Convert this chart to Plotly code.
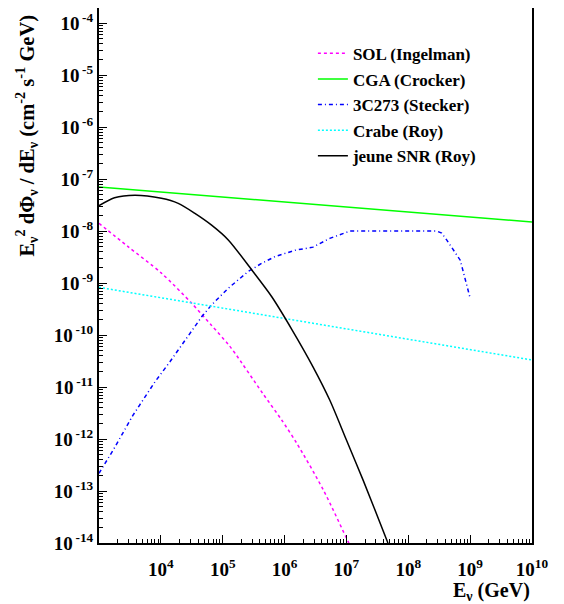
import plotly.graph_objects as go

# ---- data (E in GeV, flux in cm^-2 s^-1 GeV) ----
E_SOL = [1.0e3, 2.95e3, 1.02e4, 3.16e4, 6.61e4, 1.23e5, 1.58e5, 4.42e5, 8.97e5, 1.57e6, 4.23e6, 1.07e7, 1.26e7]
F_SOL = [1.41e-8, 5.01e-9, 1.55e-9, 4.07e-10, 1.53e-10, 6.61e-11, 4.47e-11, 7.59e-12, 2.32e-12, 8.32e-13, 1.05e-13, 1.05e-14, 7.08e-15]

E_CGA = [1.0e3, 1.0e10]
F_CGA = [7.02e-8, 1.49e-8]

E_3C273 = [1.0e3, 1.70e3, 3.55e3, 8.04e3, 1.41e4, 2.45e4, 4.57e4, 6.61e4, 1.23e5, 2.57e5, 4.27e5,
           7.08e5, 1.48e6, 2.88e6, 5.37e6, 1.15e7, 2.88e8, 3.47e8, 4.17e8, 6.92e8, 8.32e8, 1.0e9]
F_3C273 = [2.19e-13, 6.17e-13, 2.88e-12, 1.26e-11, 3.09e-11, 7.94e-11, 2.24e-10, 3.80e-10, 7.94e-10, 1.66e-9, 2.40e-9,
           3.24e-9, 4.27e-9, 4.90e-9, 7.24e-9, 1.0e-8, 1.0e-8, 9.12e-9, 6.76e-9, 2.75e-9, 1.15e-9, 5.13e-10]

E_CRABE = [1.0e3, 1.0e10]
F_CRABE = [8.26e-10, 3.31e-11]

E_SNR = [1.0e3, 1.78e3, 3.80e3, 1.02e4, 1.91e4, 3.55e4, 6.61e4, 1.23e5, 2.95e5, 6.17e5, 1.32e6,
         2.88e6, 5.37e6, 1.0e7, 1.86e7, 4.47e7, 5.01e7]
F_SNR = [3.07e-8, 4.37e-8, 4.90e-8, 4.27e-8, 3.41e-8, 2.19e-8, 1.30e-8, 6.76e-9, 1.78e-9, 5.50e-10, 1.26e-10,
         2.45e-11, 5.62e-12, 9.55e-13, 1.62e-13, 1.15e-14, 7.94e-15]

NAMES = ["SOL (Ingelman)", "CGA (Crocker)", "3C273 (Stecker)", "Crabe (Roy)", "jeune SNR (Roy)"]

X_EXPONENTS = [4, 5, 6, 7, 8, 9, 10]
Y_EXPONENTS = [-14, -13, -12, -11, -10, -9, -8, -7, -6, -5, -4]

FONT = "Liberation Serif"

X_TICKS = [10.0 ** k for k in X_EXPONENTS]
X_TICK_TEXT = ["10<sup>%d</sup>" % k for k in X_EXPONENTS]
Y_TICKS = [10.0 ** k for k in Y_EXPONENTS]
Y_TICK_TEXT = ["10<sup>\u2009%d</sup>" % k for k in Y_EXPONENTS]
X_MINOR = [m * 10.0 ** k for k in range(3, 10) for m in range(2, 10)]
Y_MINOR = [m * 10.0 ** k for k in range(-14, -3) for m in range(2, 10)]

series = [
    (NAMES[0], E_SOL, F_SOL, "#ff00ff", "3px,3px", 1.5, "spline"),
    (NAMES[1], E_CGA, F_CGA, "#00ff00", "solid", 1.5, "linear"),
    (NAMES[2], E_3C273, F_3C273, "#0000ff", "4px,3px,1px,3px", 1.5, "linear"),
    (NAMES[3], E_CRABE, F_CRABE, "#00ffff", "2px,2px", 1.5, "linear"),
    (NAMES[4], E_SNR, F_SNR, "#000000", "solid", 1.5, "spline"),
]

fig = go.Figure()
for name, E, F, color, dash, width, shape in series:
    fig.add_trace(go.Scatter(x=E, y=F, mode="lines", name=name, legendgroup=name,
                             line=dict(color=color, dash=dash, width=width, shape=shape, smoothing=0.8)))


def axis(tickvals, ticktext, minorvals, **extra):
    d = dict(
        type="log", showline=True, linecolor="black", linewidth=2, mirror=True,
        ticks="inside", ticklen=8, tickwidth=1, tickcolor="black",
        tickmode="array", tickvals=tickvals, ticktext=ticktext,
        showgrid=False, zeroline=False, automargin=False,
        tickfont=dict(family=FONT, size=19, color="black", weight="bold"),
        minor=dict(tickmode="array", tickvals=minorvals, ticks="inside", ticklen=4,
                   tickwidth=1, tickcolor="black", showgrid=False),
    )
    d.update(extra)
    return d


fig.update_layout(
    width=556, height=596,
    margin=dict(l=91, r=32, t=0, b=61),
    paper_bgcolor="white", plot_bgcolor="white",
    xaxis=axis(X_TICKS, X_TICK_TEXT, X_MINOR, range=[3, 10], ticklabelstandoff=8),
    yaxis=axis(Y_TICKS, Y_TICK_TEXT, Y_MINOR, range=[-14, -3.71]),
    showlegend=True,
    legend=dict(x=0.494, y=0.948, xanchor="left", yanchor="top", bgcolor="rgba(0,0,0,0)",
                borderwidth=0, tracegroupgap=0.5, itemwidth=30,
                font=dict(family=FONT, size=17, color="black", weight="bold")),
    annotations=[
        dict(text="E<sub>ν</sub><sup>2</sup> dΦ<sub>ν</sub> / dE<sub>ν</sub> (cm<sup>-2</sup> s<sup>-1</sup> GeV)",
             xref="paper", yref="paper", x=-0.168, y=0.762, xanchor="center", yanchor="middle",
             textangle=-90, showarrow=False,
             font=dict(family=FONT, size=20.5, color="black", weight="bold")),
        dict(text="E<sub>ν</sub> (GeV)", xref="paper", yref="paper", x=1.0, y=-0.09,
             xanchor="right", yanchor="middle", showarrow=False,
             font=dict(family=FONT, size=20, color="black", weight="bold")),
    ],
)

fig.write_html("out.html")
